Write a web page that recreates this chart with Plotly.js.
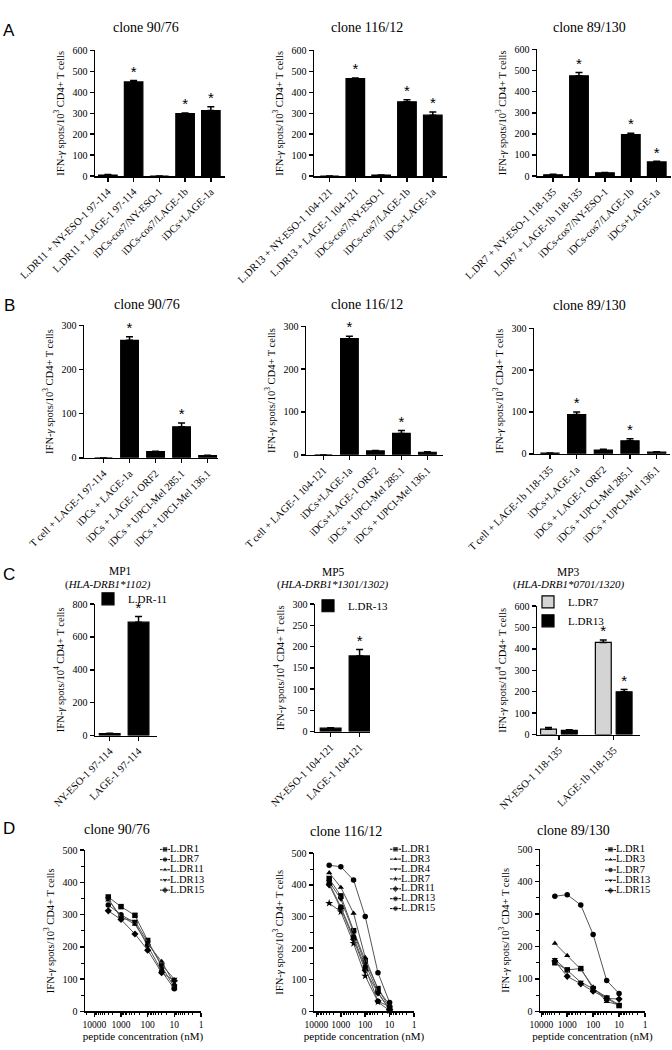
<!DOCTYPE html>
<html><head><meta charset="utf-8">
<script src="https://cdn.plot.ly/plotly-3.0.1.min.js"></script>
<style>html,body{margin:0;padding:0;background:#fff}#chart{width:672px;height:1050px}</style>
</head><body><div id="chart"></div>
<script>
// ================= DATA =================
// Panel A
const catA1 = ['L.DR11 + NY-ESO-1 97-114','L.DR11 + LAGE-1 97-114','iDCs-cos7/NY-ESO-1','iDCs-cos7/LAGE-1b','iDCs+LAGE-1a'];
const valA1 = [5, 450, 0, 298, 313];
const errA1 = [2, 6, 0, 3, 18];
const sigA1 = [0, 1, 0, 1, 1];

const catA2 = ['L.DR13 + NY-ESO-1 104-121','L.DR13 + LAGE-1 104-121','iDCs-cos7/NY-ESO-1','iDCs-cos7/LAGE-1b','iDCs+LAGE-1a'];
const valA2 = [0, 466, 4, 355, 291];
const errA2 = [0, 3, 1, 9, 15];
const sigA2 = [0, 1, 0, 1, 1];

const catA3 = ['L.DR7 + NY-ESO-1 118-135','L.DR7 + LAGE-1b 118-135','iDCs-cos7/NY-ESO-1','iDCs-cos7/LAGE-1b','iDCs+LAGE-1a'];
const valA3 = [6, 475, 15, 197, 67];
const errA3 = [2, 16, 2, 6, 3];
const sigA3 = [0, 1, 0, 1, 1];

// Panel B
const catB1 = ['T cell + LAGE-1 97-114','iDCs + LAGE-1a','iDCs + LAGE-1 ORF2','iDCs + UPCI-Mel 285.1','iDCs + UPCI-Mel 136.1'];
const valB1 = [0, 266, 14, 70, 5];
const errB1 = [0, 8, 1, 9, 1];
const sigB1 = [0, 1, 0, 1, 0];

const catB2 = ['T cell + LAGE-1 104-121','iDCs+LAGE-1a','iDCs+LAGE-1 ORF2','iDCs + UPCI-Mel 285.1','iDCs + UPCI-Mel 136.1'];
const valB2 = [0, 271, 9, 50, 6];
const errB2 = [0, 6, 1, 7, 1];
const sigB2 = [0, 1, 0, 1, 0];

const catB3 = ['T cell + LAGE-1b 118-135','iDCs+LAGE-1a','iDCs + LAGE-1 ORF2','iDCs + UPCI-Mel 285.1','iDCs + UPCI-Mel 136.1'];
const valB3 = [2, 94, 9, 31, 4];
const errB3 = [0, 6, 2, 5, 1];
const sigB3 = [0, 1, 0, 1, 0];

// Panel C
const catC1 = ['NY-ESO-1 97-114','LAGE-1 97-114'];
const valC1 = [12, 690];
const errC1 = [2, 35];
const sigC1 = [0, 1];
const nameC1 = 'L.DR-11';

const catC2 = ['NY-ESO-1 104-121','LAGE-1 104-121'];
const valC2 = [8, 178];
const errC2 = [1, 15];
const sigC2 = [0, 1];
const nameC2 = 'L.DR-13';

const catC3 = ['NY-ESO-1 118-135','LAGE-1b 118-135'];
const valC3_DR7 = [25, 430];
const errC3_DR7 = [8, 12];
const sigC3_DR7 = [0, 1];
const valC3_DR13 = [20, 200];
const errC3_DR13 = [2, 10];
const sigC3_DR13 = [0, 1];
const namesC3 = ['L.DR7', 'L.DR13'];

// Panel D (peptide concentration, nM)
const conc = [3000, 1000, 300, 100, 30, 10];
const concTicks = [10000, 1000, 100, 10, 1];

const namesD1 = ['L.DR1','L.DR7','L.DR11','L.DR13','L.DR15'];
const d1_DR1  = [355, 325, 298, 220, 140, 75];
const d1_DR7  = [330, 300, 275, 205, 125, 70];
const d1_DR11 = [345, 295, 270, 210, 155, 85];
const d1_DR13 = [350, 290, 280, 215, 145, 100];
const d1_DR15 = [312, 285, 240, 190, 120, 95];

const namesD2 = ['L.DR1','L.DR3','L.DR4','L.DR7','L.DR11','L.DR13','L.DR15'];
const d2_DR1  = [420, 365, 255, 160, 72, 10];
const d2_DR3  = [438, 392, 310, 170, 70, 20];
const d2_DR4  = [410, 355, 250, 150, 60, 5];
const d2_DR7  = [342, 315, 215, 112, 30, 2];
const d2_DR11 = [400, 325, 228, 130, 58, 5];
const d2_DR13 = [405, 330, 235, 140, 32, 15];
const d2_DR15 = [462, 457, 415, 300, 122, 28];

const namesD3 = ['L.DR1','L.DR3','L.DR7','L.DR13','L.DR15'];
const d3_DR1  = [150, 128, 132, 70, 40, 18];
const d3_DR3  = [210, 172, 130, 75, 30, 20];
const d3_DR7  = [355, 360, 328, 237, 95, 55];
const d3_DR13 = [160, 128, 90, 70, 45, 20];
const d3_DR15 = [155, 108, 85, 62, 40, 38];

// ================= STYLE / LAYOUT =================
const SERIF = 'Liberation Serif, Times New Roman, serif';
const SANS = 'Liberation Sans, Arial, sans-serif';
const W = 672, H = 1050;
const xd = (a, b) => [a / W, b / W];
const yd = (t, b) => [1 - b / H, 1 - t / H];
const px = x => x / W, py = y => 1 - y / H;
const TITLE3 = 'IFN-<i>γ</i> spots/10<sup>3</sup> CD4+ T cells';
const TITLE4 = 'IFN-<i>γ</i> spots/10<sup>4</sup> CD4+ T cells';

const traces = [];
const layout = {
  width: W, height: H, margin: {l: 0, r: 0, t: 0, b: 0},
  paper_bgcolor: '#fff', plot_bgcolor: 'rgba(0,0,0,0)',
  barmode: 'overlay', showlegend: true, annotations: [],
  font: {family: SERIF, color: '#000'}
};

function axStyle(o) {
  return Object.assign({
    showline: true, linecolor: '#000', linewidth: 1.5,
    ticks: 'outside', ticklen: 4, tickwidth: 1.5, tickcolor: '#000',
    showgrid: false, zeroline: false, fixedrange: true,
    tickfont: {family: SERIF, size: 10, color: '#000'}
  }, o);
}
const axTitle = (text, size, standoff) => ({text: text, standoff: standoff,
  font: {family: SERIF, size: size || 10.5, color: '#000'}});
const ids = n => ({xa: n === 1 ? 'x' : 'x' + n, ya: n === 1 ? 'y' : 'y' + n,
                   xk: n === 1 ? 'xaxis' : 'xaxis' + n, yk: n === 1 ? 'yaxis' : 'yaxis' + n});

function addAxes(n, g, ytitle) {
  const k = ids(n);
  layout[k.xk] = axStyle({domain: xd(g.x0, g.x1), anchor: k.ya, type: 'category', range: g.xr,
    tickangle: -45, tickfont: {family: SERIF, size: 10.5, color: '#000'}});
  layout[k.yk] = axStyle({domain: yd(g.y0, g.y1), anchor: k.xa, range: g.yr, dtick: g.dt, tick0: 0,
    automargin: true, title: axTitle(ytitle, 10.5, 6)});
  return k;
}

const starFont = {family: SANS, size: 15, color: '#000'};
function addBars(k, cats, vals, errs, sig, opt) {
  traces.push({
    type: 'bar', x: cats, y: vals, xaxis: k.xa, yaxis: k.ya, name: opt.name || '',
    width: opt.bw,
    marker: {color: opt.color || '#000', line: {color: '#000', width: 1.2}},
    error_y: {type: 'data', array: errs, arrayminus: errs.map(() => 0), symmetric: false,
              color: '#000', thickness: 1.5, width: 3.5},
    showlegend: !!opt.legend, legend: opt.legend, hoverinfo: 'skip'
  });
  traces.push({
    type: 'scatter', mode: 'text', x: cats, y: vals.map((v, i) => v + errs[i]),
    text: sig.map(s => s ? '*' : ' '), textposition: 'top center', textfont: starFont,
    xaxis: k.xa, yaxis: k.ya, showlegend: false, cliponaxis: false, hoverinfo: 'skip'
  });
}

// ---- Panel A ----
const gA = {yr: [0, 600], dt: 100};
let k;
k = addAxes(1, Object.assign({x0: 95, x1: 225, y0: 45, y1: 172, xr: [-0.5, 4.55]}, gA), TITLE3);
addBars(k, catA1, valA1, errA1, sigA1, {bw: 0.72});
k = addAxes(2, Object.assign({x0: 314, x1: 447, y0: 45, y1: 172, xr: [-0.6, 4.55]}, gA), TITLE3);
addBars(k, catA2, valA2, errA2, sigA2, {bw: 0.72});
k = addAxes(3, Object.assign({x0: 537, x1: 671, y0: 44, y1: 172, xr: [-0.62, 4.55]}, gA), TITLE3);
addBars(k, catA3, valA3, errA3, sigA3, {bw: 0.72});

// ---- Panel B ----
const gB = {yr: [0, 300], dt: 100};
k = addAxes(4, Object.assign({x0: 84, x1: 218, y0: 323, y1: 457, xr: [-0.75, 4.4]}, gB), TITLE3);
addBars(k, catB1, valB1, errB1, sigB1, {bw: 0.68});
k = addAxes(5, Object.assign({x0: 306, x1: 443, y0: 324, y1: 454, xr: [-0.67, 4.6]}, gB), TITLE3);
addBars(k, catB2, valB2, errB2, sigB2, {bw: 0.68});
k = addAxes(6, Object.assign({x0: 534, x1: 670, y0: 326, y1: 453, xr: [-0.6, 4.5]}, gB), TITLE3);
addBars(k, catB3, valB3, errB3, sigB3, {bw: 0.68});

// ---- Panel C ----
k = addAxes(7, {x0: 95, x1: 157, y0: 605, y1: 738, xr: [-0.51, 1.64], yr: [0, 800], dt: 200}, TITLE4);
addBars(k, catC1, valC1, errC1, sigC1, {bw: 0.72, name: nameC1, legend: 'legend'});
k = addAxes(8, {x0: 315, x1: 370, y0: 605, y1: 734, xr: [-0.54, 1.36], yr: [0, 300], dt: 50}, TITLE4);
addBars(k, catC2, valC2, errC2, sigC2, {bw: 0.72, name: nameC2, legend: 'legend2'});
k = addAxes(9, {x0: 537, x1: 640, y0: 607, y1: 737, xr: [-0.4, 1.48], yr: [0, 600], dt: 100}, TITLE4);
// grouped bars (two series) with explicit offsets
const errBar = e => ({type: 'data', array: e, arrayminus: e.map(() => 0), symmetric: false, color: '#000', thickness: 1.5, width: 3.5});
traces.push({type: 'bar', x: catC3, y: valC3_DR7, xaxis: k.xa, yaxis: k.ya, name: namesC3[0],
  width: 0.29, offset: -0.335, marker: {color: '#d4d4d4', line: {color: '#000', width: 1.2}},
  error_y: errBar(errC3_DR7), legend: 'legend3', hoverinfo: 'skip'});
traces.push({type: 'bar', x: catC3, y: valC3_DR13, xaxis: k.xa, yaxis: k.ya, name: namesC3[1],
  width: 0.29, offset: 0.045, marker: {color: '#000', line: {color: '#000', width: 1.2}},
  error_y: errBar(errC3_DR13), legend: 'legend3', hoverinfo: 'skip'});
// stars for grouped bars: hidden linear overlay axis indexed by category
layout.xaxis16 = {domain: xd(537, 640), anchor: 'y9', range: [-0.4, 1.48], visible: false, fixedrange: true};
const idxC3 = catC3.map((c, i) => i);
traces.push({type: 'scatter', mode: 'text', x: idxC3.map(i => i - 0.19), y: valC3_DR7.map((v, i) => v + errC3_DR7[i]),
  text: sigC3_DR7.map(s => s ? '*' : ' '), textposition: 'top center', textfont: starFont,
  xaxis: 'x16', yaxis: 'y9', showlegend: false, cliponaxis: false, hoverinfo: 'skip'});
traces.push({type: 'scatter', mode: 'text', x: idxC3.map(i => i + 0.19), y: valC3_DR13.map((v, i) => v + errC3_DR13[i]),
  text: sigC3_DR13.map(s => s ? '*' : ' '), textposition: 'top center', textfont: starFont,
  xaxis: 'x16', yaxis: 'y9', showlegend: false, cliponaxis: false, hoverinfo: 'skip'});

const legStyle = {xanchor: 'left', yanchor: 'top', bgcolor: 'rgba(0,0,0,0)', borderwidth: 0,
  font: {family: SERIF, size: 11, color: '#000'}, itemwidth: 30, tracegroupgap: 0};
layout.legend  = Object.assign({x: px(88), y: py(585)}, legStyle);
layout.legend2 = Object.assign({x: px(308), y: py(592)}, legStyle);
layout.legend3 = Object.assign({x: px(528), y: py(588)}, legStyle);

// ---- Panel D ----
function addLinePanel(n, g, names, series, syms, lg) {
  const kk = ids(n);
  layout[kk.xk] = axStyle({domain: xd(g.x0, g.x1), anchor: kk.ya, type: 'log', range: g.xr,
    tickmode: 'array', tickvals: concTicks, ticktext: concTicks.map(String),
    tickfont: {family: SERIF, size: 9.5, color: '#000'},
    minor: {ticks: 'outside', ticklen: 2.5, tickwidth: 1, tickcolor: '#000', dtick: 'D1'},
    title: axTitle('peptide concentration (nM)', 11, 3)});
  layout[kk.yk] = axStyle({domain: yd(g.y0, g.y1), anchor: kk.xa, range: [0, 500], dtick: 100, tick0: 0,
    minor: {ticks: 'outside', ticklen: 2.5, tickwidth: 1, tickcolor: '#000', dtick: 50},
    automargin: true, title: axTitle(TITLE3, 10.5, 6)});
  series.forEach((s, i) => {
    traces.push({type: 'scatter', mode: 'lines+markers', x: conc, y: s, name: names[i],
      xaxis: kk.xa, yaxis: kk.ya, line: {color: '#555', width: 1},
      marker: {symbol: syms[i], size: syms[i] === 'star' ? 6 : 5.5, color: '#000'},
      showlegend: false, hoverinfo: 'skip', cliponaxis: false});
  });
  // compact legend built from the series names (one row per series)
  const lk = ids(lg.n);
  const rows = names.length;
  layout[lk.xk] = {domain: xd(lg.x0, lg.x1), anchor: lk.ya, range: [0, 1], visible: false, fixedrange: true};
  layout[lk.yk] = {domain: yd(lg.y0, lg.y0 + rows * lg.dy), anchor: lk.xa, range: [rows - 0.5, -0.5], visible: false, fixedrange: true};
  names.forEach((nm, i) => {
    traces.push({type: 'scatter', mode: 'lines+markers+text', x: [0, 0.5, 1], y: [i, i, i],
      text: [' ', ' ', nm], textposition: 'middle right', textfont: {family: SERIF, size: 10.5, color: '#000'},
      xaxis: lk.xa, yaxis: lk.ya, line: {color: '#000', width: 1},
      marker: {symbol: syms[i], size: [0, syms[i] === 'star' ? 6 : 5.5, 0], color: '#000'},
      showlegend: false, hoverinfo: 'skip', cliponaxis: false});
  });
}

addLinePanel(10, {x0: 85, x1: 201, y0: 854, y1: 1017, xr: [4.35, 0]}, namesD1,
  [d1_DR1, d1_DR7, d1_DR11, d1_DR13, d1_DR15],
  ['square', 'circle', 'triangle-up', 'triangle-down', 'diamond'],
  {n: 13, x0: 160, x1: 170, y0: 848, dy: 10.3});
addLinePanel(11, {x0: 314, x1: 414, y0: 857, y1: 1017, xr: [4.1, 0]}, namesD2,
  [d2_DR1, d2_DR3, d2_DR4, d2_DR7, d2_DR11, d2_DR13, d2_DR15],
  ['square', 'triangle-up', 'triangle-down', 'star', 'diamond', 'circle', 'circle'],
  {n: 14, x0: 390, x1: 401, y0: 848, dy: 10});
addLinePanel(12, {x0: 540, x1: 645, y0: 853, y1: 1017, xr: [4.05, 0]}, namesD3,
  [d3_DR1, d3_DR3, d3_DR7, d3_DR13, d3_DR15],
  ['square', 'triangle-up', 'circle', 'triangle-down', 'diamond'],
  {n: 15, x0: 605, x1: 616, y0: 848, dy: 10.4});

// ---- titles and panel letters ----
function ann(text, x, y, size, family) {
  layout.annotations.push({text: text, x: px(x), y: py(y), xref: 'paper', yref: 'paper',
    xanchor: 'center', yanchor: 'middle', showarrow: false,
    font: {family: family || SERIF, size: size, color: '#000'}});
}
ann('clone 90/76', 146, 22, 14); ann('clone 116/12', 367, 22, 14); ann('clone 89/130', 589, 22, 14);
ann('clone 90/76', 147, 302, 14); ann('clone 116/12', 367, 302, 14); ann('clone 89/130', 589, 303, 14);
ann('MP1', 120, 572, 11.5); ann('(<i>HLA-DRB1*1102)</i>', 108, 585, 11);
ann('MP5', 333, 573, 11.5); ann('(<i>HLA-DRB1*1301/1302)</i>', 333, 585, 11);
ann('MP3', 568, 573, 11.5); ann('(<i>HLA-DRB1*0701/1320)</i>', 569, 585, 11);
ann('clone 90/76', 117, 833, 14); ann('clone 116/12', 346, 835, 14); ann('clone 89/130', 573, 834, 14);
ann('A', 9, 25, 17, SANS); ann('B', 9, 303, 17, SANS); ann('C', 9, 575, 17, SANS); ann('D', 9, 832, 17, SANS);

Plotly.newPlot('chart', traces, layout, {staticPlot: true, displayModeBar: false});
</script>
</body></html>
